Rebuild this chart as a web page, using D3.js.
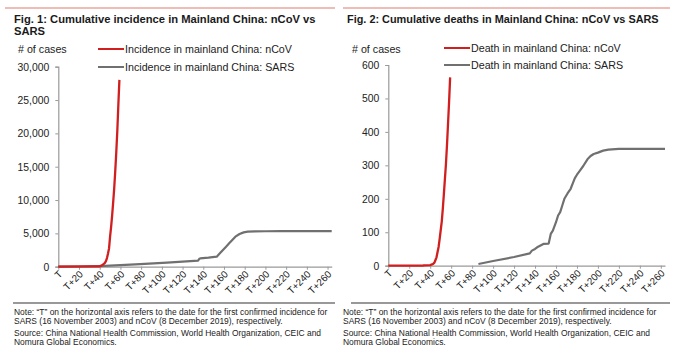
<!DOCTYPE html>
<html><head><meta charset="utf-8">
<script src="https://cdn.jsdelivr.net/npm/d3@7/dist/d3.min.js"></script>
<style>
html,body{margin:0;padding:0;background:#fff;}
svg{display:block;font-family:Arial,"Liberation Sans",sans-serif;}
</style></head>
<body>
<svg id="c" width="679" height="356"></svg>
<script>
// ---------- DATA ----------
const xTickDays   = [0,20,40,60,80,100,120,140,160,180,200,220,240,260];
const xTickLabels = ["T","T+20","T+40","T+60","T+80","T+100","T+120","T+140","T+160","T+180","T+200","T+220","T+240","T+260"];
const incidenceTicks = [0,5000,10000,15000,20000,25000,30000];
const deathTicks     = [0,100,200,300,400,500,600];

// [day, cumulative cases]
const ncovIncidence = [[0,0],[33,41],[38,41],[39,45],[40,62],[41,121],[42,198],[43,291],[44,440],[45,571],[46,830],[47,1287],[48,1975],[49,2744],[50,4515],[51,5974],[52,7711],[53,9692],[54,11791],[55,14380],[56,17205],[57,20438],[58,24324],[59,28018]];
const sarsIncidence = [[0,5],[20,30],[40,100],[60,230],[79,400],[105,600],[120,750],[135,900],[136,1150],[137,1250],[145,1350],[153,1500],[156,2000],[159,2500],[162,3000],[165,3500],[168,4000],[171,4500],[175,4900],[179,5150],[183,5250],[190,5300],[200,5320],[215,5327],[264,5327]];

// [day, cumulative deaths]
const ncovDeaths = [[0,0],[33,0],[34,1],[40,2],[41,3],[42,4],[43,6],[44,9],[45,17],[46,25],[47,41],[48,56],[49,80],[50,106],[51,132],[52,170],[53,213],[54,259],[55,304],[56,361],[57,425],[58,490],[59,563]];
const sarsDeaths = [[86,5],[100,14],[120,26],[135,37],[137,45],[140,50],[142,55],[148,65],[153,66],[155,95],[157,105],[160,130],[162,150],[164,160],[166,180],[168,200],[171,216],[174,230],[176,246],[178,262],[180,272],[183,285],[186,298],[190,318],[193,328],[196,334],[200,338],[205,344],[210,347],[220,349],[264,349]];

const titles1 = ["Fig. 1: Cumulative incidence in Mainland China: nCoV vs","SARS"];
const titles2 = ["Fig. 2: Cumulative deaths in Mainland China: nCoV vs SARS"];
const legend1 = ["Incidence in mainland China: nCoV","Incidence in mainland China: SARS"];
const legend2 = ["Death in mainland China: nCoV","Death in mainland China: SARS"];
const notes = [
 "Note: \u201CT\u201D on the horizontal axis refers to the date for the first confirmed incidence for",
 "SARS (16 November 2003) and nCoV (8 December 2019), respectively.",
 "Source: China National Health Commission, World Health Organization, CEIC and",
 "Nomura Global Economics."
];

// ---------- DRAW ----------
const svg = d3.select("#c");
const RED = "#d11f1f", GRAY = "#707070", TXT = "#222";

function panel(o){
  const g = svg.append("g");
  // top red rule
  g.append("line").attr("x1",o.ruleX0).attr("x2",o.ruleX1).attr("y1",8).attr("y2",8)
    .attr("stroke","#e07a6e").attr("stroke-width",1.2);
  // title
  o.titles.forEach((t,i)=>{
    g.append("text").attr("x",o.titleX).attr("y",22.5+i*12.5).attr("font-size",o.titleSize)
     .attr("font-weight","bold").attr("fill","#1a1a1a").text(t);
  });
  const x = d3.scaleLinear().domain([0,264]).range([o.x0,o.x1]);
  const y = d3.scaleLinear().domain([0,o.yMax]).range([o.y0,o.y1]);

  // y axis
  const ya = d3.axisLeft(y).tickValues(o.yTicks).tickSize(3).tickPadding(6)
      .tickFormat(o.yFmt);
  const yg = g.append("g").attr("transform",`translate(${o.x0},0)`).call(ya);
  yg.select(".domain").attr("stroke","#9a9a9a").attr("stroke-width",1.2);
  yg.selectAll(".tick line").attr("stroke","#9a9a9a");
  yg.selectAll(".tick text").attr("font-size",10.4).attr("fill",TXT)
    .attr("font-family","Arial,'Liberation Sans',sans-serif");

  // x axis
  const xa = d3.axisBottom(x).tickValues(xTickDays).tickSize(3).tickSizeOuter(0)
      .tickFormat((d,i)=>xTickLabels[i]);
  const xg = g.append("g").attr("transform",`translate(0,${o.y0})`).call(xa);
  xg.select(".domain").attr("stroke","#9a9a9a").attr("stroke-width",1.2);
  xg.selectAll(".tick line").attr("stroke","#9a9a9a");
  xg.selectAll(".tick text").attr("font-size",9.9).attr("fill",TXT)
    .attr("font-family","Arial,'Liberation Sans',sans-serif")
    .attr("text-anchor","end").attr("dy",0)
    .attr("transform","translate(2,6) rotate(-45)").attr("y",3).attr("x",0);

  // lines
  const line = d3.line().x(d=>x(d[0])).y(d=>y(d[1]));
  g.append("path").datum(o.sars).attr("d",line).attr("fill","none")
    .attr("stroke",GRAY).attr("stroke-width",2.2).attr("stroke-linejoin","round");
  g.append("path").datum(o.ncov).attr("d",line).attr("fill","none")
    .attr("stroke",RED).attr("stroke-width",2.3).attr("stroke-linejoin","round");

  // legend
  g.append("text").attr("x",o.unitX).attr("y",52.5).attr("font-size",10.7).attr("fill",TXT).text("# of cases");
  [[RED,o.legend[0],o.legY[0]],[GRAY,o.legend[1],o.legY[1]]].forEach(([c,t,yy])=>{
    g.append("line").attr("x1",o.legX).attr("x2",o.legX+26).attr("y1",yy).attr("y2",yy)
      .attr("stroke",c).attr("stroke-width",2);
    g.append("text").attr("x",o.legX+27).attr("y",yy+3.7).attr("font-size",10.7).attr("fill",TXT).text(t);
  });

  // bottom rule + notes
  g.append("line").attr("x1",o.ruleX0+8).attr("x2",o.ruleX1).attr("y1",303).attr("y2",303)
    .attr("stroke","#777").attr("stroke-width",1.3);
  const ny = [314.5,323.5,336,345];
  notes.forEach((t,i)=>{
    g.append("text").attr("x",o.noteX).attr("y",ny[i]).attr("font-size",8.45).attr("fill",TXT).text(t);
  });
}

panel({ruleX0:5,ruleX1:335,titleX:14,titles:titles1,titleSize:11.2,
  x0:58.3,x1:331.7,y0:266.7,y1:66.7,yMax:30000,yTicks:incidenceTicks,yFmt:d3.format(","),
  sars:sarsIncidence,ncov:ncovIncidence,unitX:18,legX:98,legY:[49,67],legend:legend1,noteX:14});
panel({ruleX0:343,ruleX1:670,titleX:347,titles:titles2,titleSize:10.9,
  x0:388.3,x1:665,y0:265.7,y1:65,yMax:600,yTicks:deathTicks,yFmt:d3.format("d"),
  sars:sarsDeaths,ncov:ncovDeaths,unitX:352,legX:444,legY:[48,65],legend:legend2,noteX:343});
</script>
</body></html>
